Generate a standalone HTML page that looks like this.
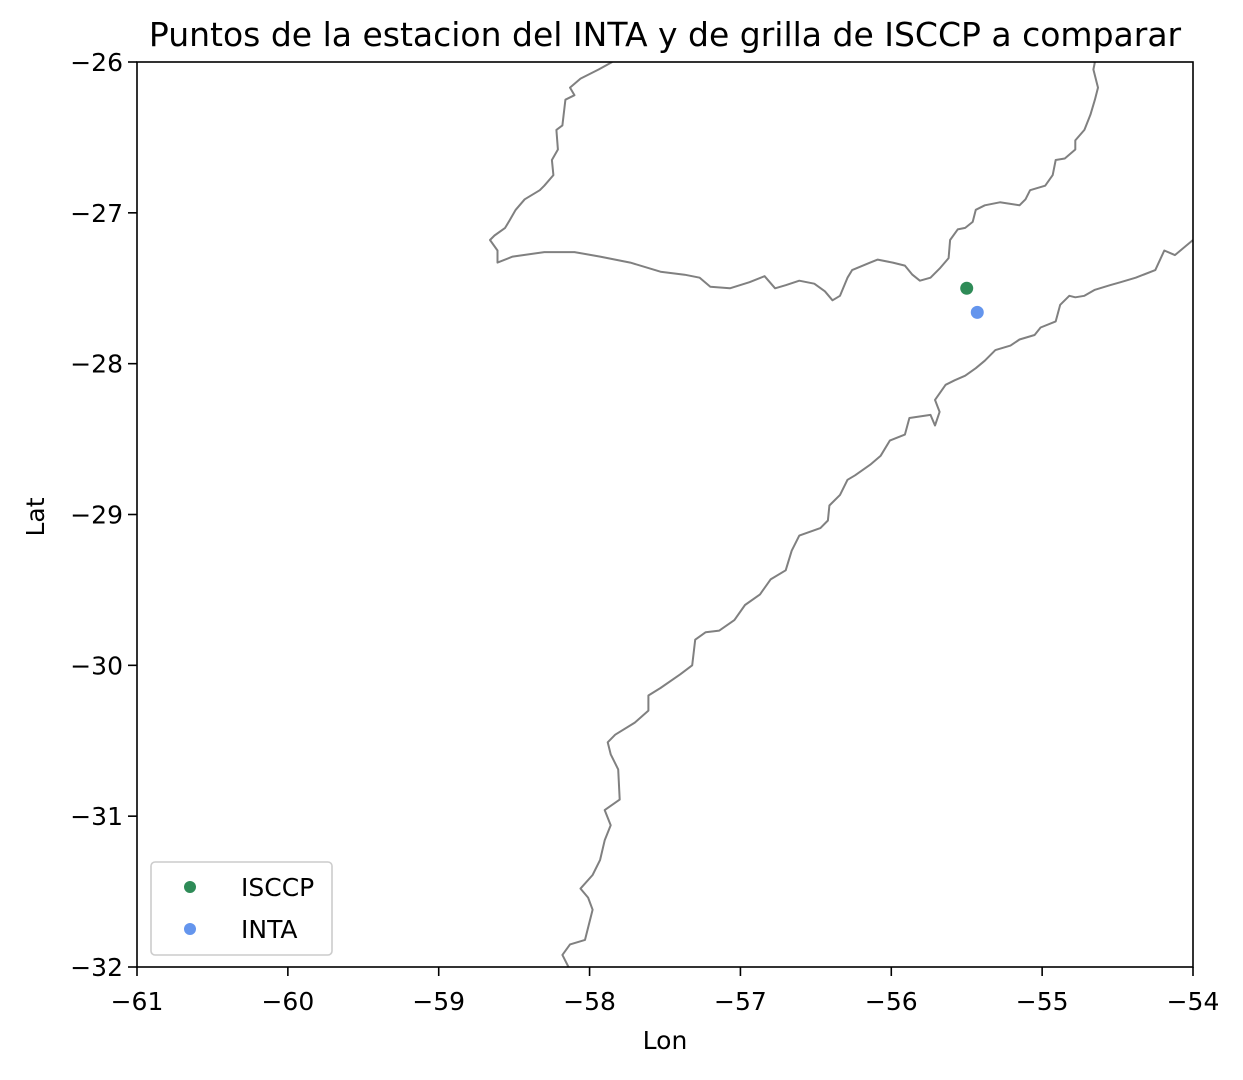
<!DOCTYPE html>
<html><head><meta charset="utf-8"><style>
body{margin:0;background:#fff;}
svg text{font-family:"DejaVu Sans","Liberation Sans",sans-serif;fill:#000;}
</style></head><body>
<svg width="1243" height="1075" viewBox="0 0 1243 1075">
<defs><clipPath id="clip"><rect x="137" y="62" width="1056" height="905"/></clipPath></defs>
<rect x="0" y="0" width="1243" height="1075" fill="#fff"/>
<text x="665" y="46" font-size="33" text-anchor="middle">Puntos de la estacion del INTA y de grilla de ISCCP a comparar</text>
<g id="borders" clip-path="url(#clip)"></g>
<g id="points"></g>
<rect x="137" y="62" width="1056" height="905" fill="none" stroke="#000" stroke-width="1.6"/>
<g id="xticks"></g>
<g id="yticks"></g>
<text x="665" y="1049" font-size="25" text-anchor="middle">Lon</text>
<text x="0" y="0" font-size="25" text-anchor="middle" transform="translate(44,517) rotate(-90)">Lat</text>
<g>
<rect x="151" y="862" width="181" height="93" rx="4" fill="#fff" stroke="#ccc" stroke-width="1.6"/>
<circle cx="190" cy="887" r="6" fill="#2e8b57"/>
<text x="241" y="896" font-size="25">ISCCP</text>
<circle cx="190" cy="929" r="6" fill="#6495ed"/>
<text x="241" y="938" font-size="25">INTA</text>
</g>
</svg>
<script>
const xTicks=[-61,-60,-59,-58,-57,-56,-55,-54];
const yTicks=[-26,-27,-28,-29,-30,-31,-32];
const pointNames=["ISCCP","INTA"];
const pointLon=[-55.5,-55.43];
const pointLat=[-27.5,-27.66];
const pointColors=["#2e8b57","#6495ed"];
const border1Lon=[-57.85,-57.94,-58.06,-58.13,-58.10,-58.16,-58.18,-58.22,-58.21,-58.25,-58.24,-58.30,-58.33,-58.43,-58.49,-58.53,-58.56,-58.63,-58.66,-58.61,-58.61,-58.51,-58.30,-58.10,-57.93,-57.73,-57.53,-57.37,-57.27,-57.20,-57.07,-56.94,-56.84,-56.77,-56.70,-56.61,-56.51,-56.44,-56.39,-56.34,-56.29,-56.26,-56.14,-56.09,-55.99,-55.91,-55.86,-55.81,-55.74,-55.68,-55.62,-55.61,-55.56,-55.51,-55.46,-55.44,-55.38,-55.28,-55.15,-55.11,-55.08,-54.98,-54.93,-54.91,-54.85,-54.78,-54.78,-54.72,-54.68,-54.65,-54.63,-54.66,-54.65];
const border1Lat=[-26.00,-26.05,-26.11,-26.17,-26.22,-26.25,-26.42,-26.45,-26.58,-26.65,-26.75,-26.82,-26.85,-26.91,-26.98,-27.05,-27.10,-27.15,-27.18,-27.25,-27.33,-27.29,-27.26,-27.26,-27.29,-27.33,-27.39,-27.41,-27.43,-27.49,-27.50,-27.46,-27.42,-27.50,-27.48,-27.45,-27.47,-27.52,-27.58,-27.55,-27.43,-27.38,-27.33,-27.31,-27.33,-27.35,-27.41,-27.45,-27.43,-27.37,-27.30,-27.18,-27.11,-27.10,-27.06,-26.98,-26.95,-26.93,-26.95,-26.91,-26.85,-26.82,-26.75,-26.65,-26.64,-26.58,-26.52,-26.45,-26.35,-26.25,-26.17,-26.05,-26.00];
const border2Lon=[-58.14,-58.18,-58.13,-58.03,-57.98,-58.01,-58.06,-57.98,-57.93,-57.90,-57.86,-57.90,-57.80,-57.81,-57.86,-57.88,-57.83,-57.70,-57.61,-57.61,-57.53,-57.40,-57.32,-57.30,-57.23,-57.14,-57.04,-56.97,-56.87,-56.80,-56.70,-56.66,-56.61,-56.47,-56.42,-56.41,-56.34,-56.29,-56.24,-56.14,-56.07,-56.01,-55.91,-55.88,-55.74,-55.71,-55.68,-55.71,-55.64,-55.58,-55.51,-55.44,-55.38,-55.31,-55.21,-55.15,-55.05,-55.01,-54.91,-54.88,-54.82,-54.78,-54.72,-54.65,-54.55,-54.48,-54.38,-54.25,-54.19,-54.12,-54.00];
const border2Lat=[-32.00,-31.92,-31.85,-31.82,-31.62,-31.54,-31.48,-31.39,-31.29,-31.16,-31.06,-30.96,-30.89,-30.69,-30.59,-30.51,-30.46,-30.38,-30.30,-30.20,-30.15,-30.06,-30.00,-29.83,-29.78,-29.77,-29.70,-29.60,-29.53,-29.43,-29.37,-29.24,-29.14,-29.09,-29.04,-28.94,-28.87,-28.77,-28.74,-28.67,-28.61,-28.51,-28.47,-28.36,-28.34,-28.41,-28.32,-28.24,-28.14,-28.11,-28.08,-28.03,-27.98,-27.91,-27.88,-27.84,-27.81,-27.76,-27.72,-27.61,-27.55,-27.56,-27.55,-27.51,-27.48,-27.46,-27.43,-27.38,-27.25,-27.28,-27.18];

const NS="http://www.w3.org/2000/svg";
const X0=137,X1=1193,Y0=62,Y1=967;
const xs=v=>X0+(v-(-61))/7*(X1-X0);
const ys=v=>Y0+((-26)-v)/6*(Y1-Y0);
function mk(t,a){const e=document.createElementNS(NS,t);for(const k in a)e.setAttribute(k,a[k]);return e;}
const fmt=v=>(v<0?"\u2212":"")+Math.abs(v);

const xg=document.getElementById('xticks');
xTicks.forEach(v=>{
  const l=mk('line',{x1:xs(v),x2:xs(v),y1:Y1,y2:Y1+9,stroke:'#000','stroke-width':1.6});
  
  
  xg.appendChild(l);
  const t=mk('text',{x:xs(v),y:1010,'font-size':25,'text-anchor':'middle'});
  
  
  t.textContent=fmt(v);xg.appendChild(t);
});
const yg=document.getElementById('yticks');
yTicks.forEach(v=>{
  const l=mk('line',{x1:X0-9,x2:X0,y1:ys(v),y2:ys(v),stroke:'#000','stroke-width':1.6});
  
  
  yg.appendChild(l);
  const t=mk('text',{x:X0-14,y:ys(v)+9,'font-size':25,'text-anchor':'end'});
  
  
  t.textContent=fmt(v);yg.appendChild(t);
});
const bg=document.getElementById('borders');
[[border1Lon,border1Lat,'border-paraguay'],[border2Lon,border2Lat,'border-uruguay-river']].forEach(([lo,la,n])=>{
  const p=lo.map((v,i)=>xs(v).toFixed(1)+','+ys(la[i]).toFixed(1)).join(' ');
  const pl=mk('polyline',{points:p,fill:'none',stroke:'#808080','stroke-width':2,'stroke-linejoin':'round'});
  
  
  bg.appendChild(pl);
});
const pg=document.getElementById('points');
pointNames.forEach((n,i)=>{
  const c=mk('circle',{cx:xs(pointLon[i]),cy:ys(pointLat[i]),r:6.5,fill:pointColors[i]});
  
  
  pg.appendChild(c);
});
</script>
</body></html>
